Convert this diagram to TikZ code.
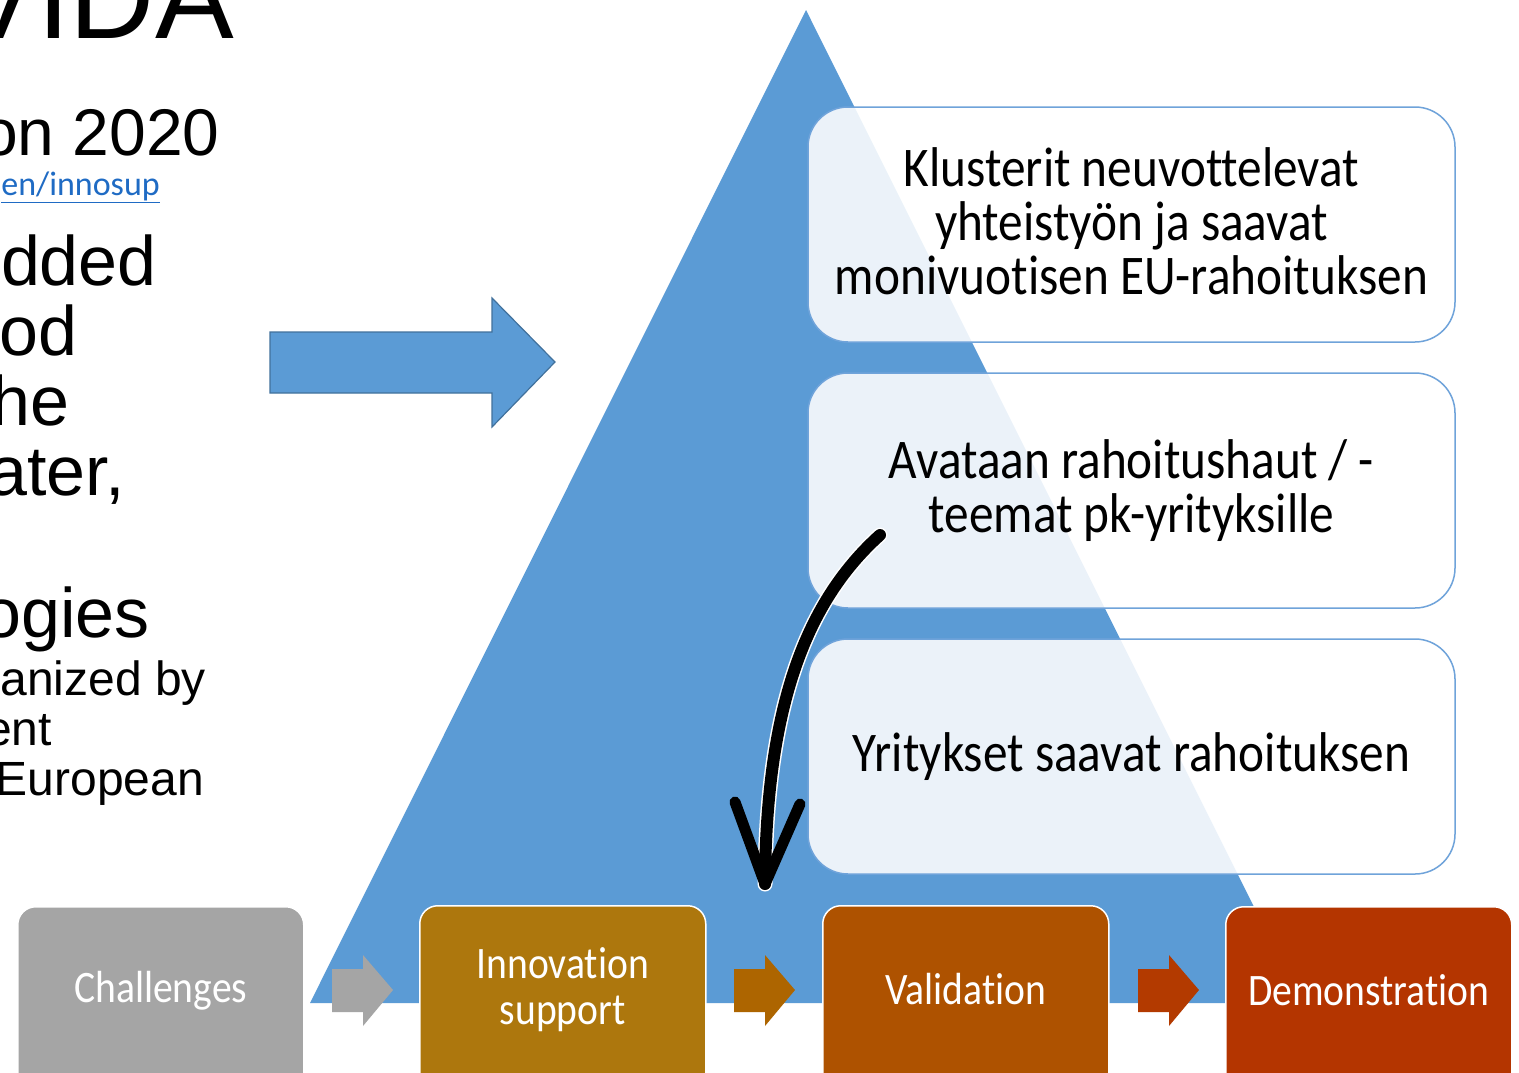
\documentclass[tikz,border=0pt]{standalone}
\usepackage{fontspec}
\setmainfont{Liberation Sans}
\newfontfamily\boxfont[FakeStretch=0.88, Ligatures=NoCommon]{Carlito}
\newfontfamily\linkfont{Carlito}
\usetikzlibrary{arrows.meta}
\usetikzlibrary{positioning}

\definecolor{pyrblue}{HTML}{5B9BD5}
\definecolor{pyredge}{HTML}{41719C}
\definecolor{boxline}{HTML}{6FA3DA}
\definecolor{linkblue}{HTML}{1F6BC4}
\definecolor{stepgray}{HTML}{A5A5A5}
\definecolor{stepgold}{HTML}{AD770D}
\definecolor{steporange}{HTML}{AE5200}
\definecolor{stepred}{HTML}{B43500}
\definecolor{arrorange}{HTML}{AD6500}
\definecolor{arrred}{HTML}{B33A00}

\begin{document}
\begin{tikzpicture}[x=1pt, y=-1pt,
	slidebig/.style={anchor=base east, inner sep=0, font=\fontsize{70}{84}\selectfont},
	slidesmall/.style={anchor=base east, inner sep=0, font=\fontsize{48}{58}\selectfont},
	tierbox/.style={draw=boxline, line width=1.5pt, fill=white, fill opacity=0.88,
		rounded corners=40pt, minimum width=647pt, minimum height=235pt},
	tiertext/.style={align=center, font=\boxfont\fontsize{56}{54}\selectfont},
	stepbox/.style={draw=white, line width=1.5pt, rounded corners=18pt, anchor=north west,
		minimum width=286pt, minimum height=185pt},
	steptext/.style={text=white, align=center, yshift=9pt, font=\boxfont\fontsize{45}{46}\selectfont}
]
	\clip (0,0) rectangle (1519,1072);
	\fill[white] (0,0) rectangle (1519,1072);

	% slide text behind
	\node[anchor=base east, inner sep=0, font=\fontsize{118}{120}\selectfont] (title) at (234,38) {VIDA};
	\node[anchor=base east, inner sep=0, font=\fontsize{66}{70}\selectfont] (prog) at (220,155) {on 2020};
	\node[anchor=base east, inner sep=0, text=linkblue, font=\linkfont\fontsize{34}{36}\selectfont] (link) at (160,195) {\underline{en/innosup}};
	\foreach \txt/\xx/\yy in {dded/157/285, od/78/355, he/70/425, {ater,}/125/495, ogies/150/637}
		\node[slidebig] at (\xx,\yy) {\txt};
	\foreach \txt/\xx/\yy in {anized by/206/695, ent/52/745, European/204/795}
		\node[slidesmall] at (\xx,\yy) {\txt};

	% pyramid
	\fill[pyrblue] (806,10) -- (1302,1003) -- (310,1003) -- cycle;
	\draw[pyredge, fill=pyrblue, line width=1.2pt] (270,332) -- (492,332) -- (492,298) -- (555,362)
		-- (492,427) -- (492,393) -- (270,393) -- cycle;

	\node[tierbox, label={[tiertext, yshift=3pt]center:Klusterit neuvottelevat\\yhteistyön ja saavat\\monivuotisen EU-rahoituksen}] (cluster) at (1131.5,224.5) {};
	\node[tierbox, label={[tiertext]center:Avataan rahoitushaut / -\\teemat pk-yrityksille}] (calls) at (1131.5,490.5) {};
	\node[tierbox, label={[tiertext]center:Yritykset saavat rahoituksen}] (funding) at (1131.5,756.5) {};

	% process steps
	\node[stepbox, fill=stepgray, label={[steptext]center:Challenges}] (challenges) at (17,906) {};
	\node[stepbox, fill=stepgold, label={[steptext]center:Innovation\\support}] (innovation) at (419,905) {};
	\node[stepbox, fill=steporange, label={[steptext]center:Validation}] (validation) at (822,905) {};
	\node[stepbox, fill=stepred, label={[steptext]center:Demonstration}] (demo) at (1225,906) {};

	\foreach \dx/\col in {0/stepgray, 402/arrorange, 806/arrred}
		\fill[\col] (332+\dx,969) -- (363+\dx,969) -- (363+\dx,955) -- (393+\dx,990)
			-- (363+\dx,1026) -- (363+\dx,1012) -- (332+\dx,1012) -- cycle;

	% hand drawn arrow
	\coordinate (curvestart) at (880,535);
	\coordinate (curveend) at (765,884);
	\draw[white, line width=15pt, line cap=round] (curvestart) .. controls (802,605) and (766,715) .. (curveend);
	\draw[black, line width=12pt, line cap=round] (curvestart) .. controls (802,605) and (766,715) .. (curveend);
	\draw[black, line width=11pt, line cap=round, line join=round] (curveend) ++(-30,-82) -- (curveend) -- ++(35,-80);
\end{tikzpicture}
\end{document}
